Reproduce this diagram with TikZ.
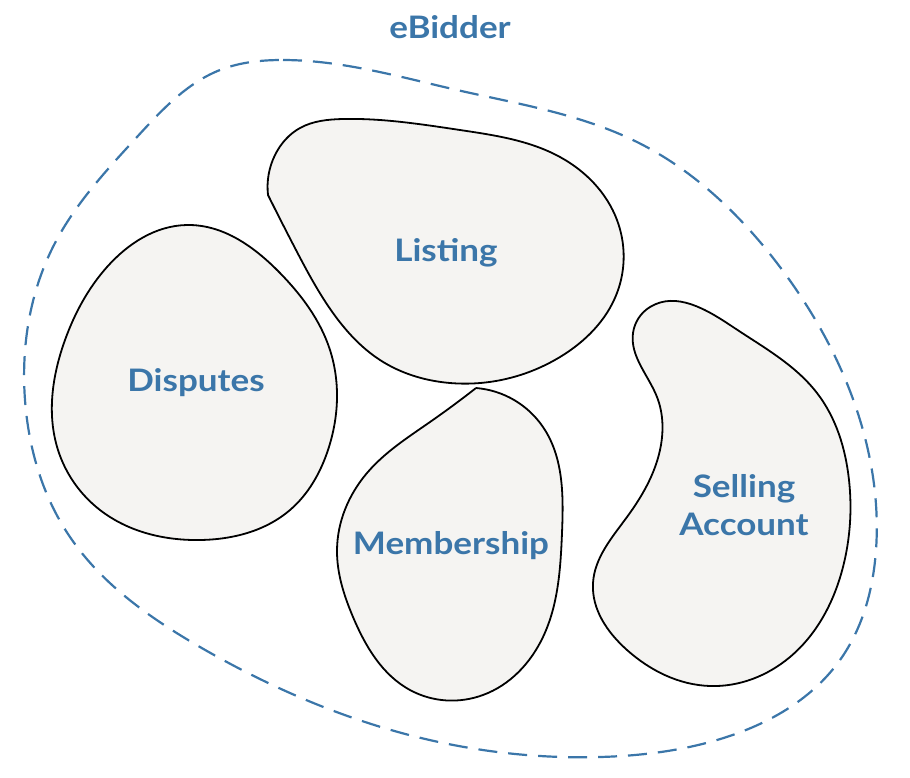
\documentclass[tikz,border=0pt]{standalone}
\usepackage{fontspec}
\setmainfont{Lato}[FakeStretch=1.13]
\usepackage{tikz,graphics}
\usetikzlibrary{hobby}
\definecolor{ctxblue}{HTML}{3B76A9}
\definecolor{ctxfill}{HTML}{F5F4F2}
\tikzset{
  blob/.style={draw=black, fill=ctxfill, line width=1.8pt, use Hobby shortcut},
  bound/.style={draw=ctxblue, dash pattern=on 19pt off 11pt, line width=2.2pt, use Hobby shortcut},
  ctxlabel/.style={text=ctxblue, font=\fontsize{31}{38}\selectfont\bfseries, align=center}
}
\begin{document}
\begin{tikzpicture}[x=1pt, y=-1pt]
    \useasboundingbox (0,0) rectangle (910,777);
    % system boundary
    \draw [bound, closed=true] (283,60) .. (457,90) .. (637,142) .. (780,267) .. (860,420) .. (876,550) .. (840,660) .. (717,740) .. (600,757) .. (417,737) .. (200,647) .. (70,537) .. (25,400) .. (55,243) .. (137,137) .. (220,70);
    % bounded contexts
    \draw [blob] (268,195) .. (275,155) .. (300,128) .. (343,119) .. (460,130) .. (560,157) .. (617,220) .. (617,293) .. (560,357) .. (450,383) .. (380,360) .. (333,313) .. (296,250) .. (268,195) -- cycle;
    \draw [blob, closed=true] (187,225) .. (280,273) .. (330,350) .. (328,450) .. (290,510) .. (200,540) .. (100,510) .. (58,450) .. (65,340) .. (107,267);
    \draw [blob] (476,388) .. (543,427) .. (562,533) .. (543,637) .. (483,695) .. (410,690) .. (353,617) .. (337,550) .. (367,473) .. (430,422) .. (476,388) -- cycle;
    \draw [blob, closed=true] (650,307) .. (733,327) .. (817,393) .. (849,480) .. (843,567) .. (790,657) .. (710,686) .. (627,650) .. (593,583) .. (627,517) .. (660,450) .. (657,397) .. (633,333);
    % labels
    \node (eb) at (450,27) [ctxlabel] {eBidder};
    \node (li) at (446,253) [ctxlabel] {Listing};
    \node (di) at (196,383) [ctxlabel] {Disputes};
    \node (me) at (451,546) [ctxlabel] {Membership};
    \node (sa) at (744,505) [ctxlabel] {Selling\\Account};
  \end{tikzpicture}
\end{document}
